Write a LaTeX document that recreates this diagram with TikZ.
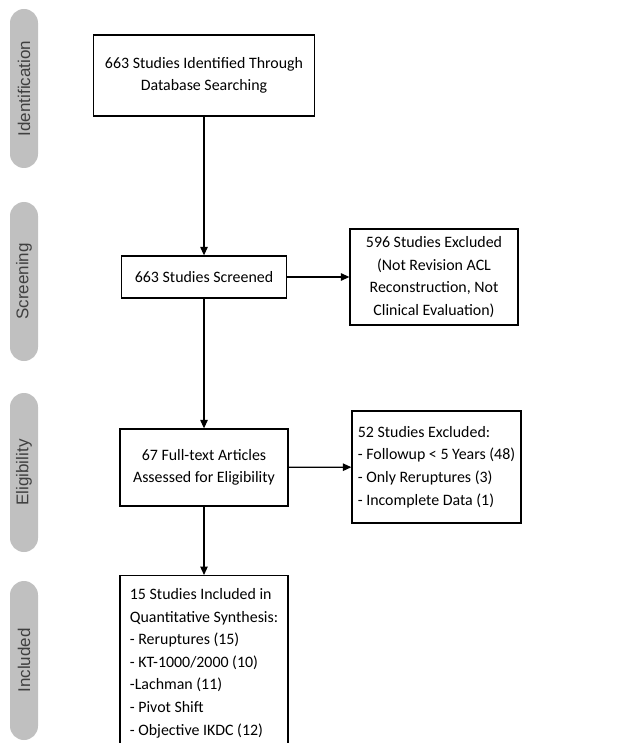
\documentclass[tikz,border=0pt]{standalone}
\usepackage{fontspec}
\setmainfont{Carlito}
\newfontfamily\phasefont{Liberation Sans}
\usetikzlibrary{arrows.meta}
\definecolor{phasegray}{RGB}{192,192,192}
\definecolor{phasetext}{RGB}{64,64,64}
\begin{document}
\begin{tikzpicture}[x=1pt,y=-1pt,
    box/.style={draw,line width=1.3pt,inner sep=0pt,align=center,
      font=\fontsize{15.9}{22.6}\selectfont},
    phase/.style={fill=phasegray,rounded corners=14pt,minimum width=159pt,
      minimum height=28pt,inner sep=0pt,rotate=90,text=phasetext,
      font=\phasefont\fontsize{17}{20}\selectfont},
    >={Triangle[length=8.5pt,width=7.5pt]}]
      \useasboundingbox (0,0) rectangle (631,743);
      \clip (0,0) rectangle (631,743);
      % phases
      \node[phase] (identification) at (24,88.5) {Identification};
      \node[phase] (screening) at (24,281.5) {Screening};
      \node[phase] (eligibility) at (24,472.5) {Eligibility};
      \node[phase] (included) at (24,660.5) {Included};
      % boxes
      \node[box,minimum width=221pt,minimum height=81pt] (ident) at (204,75.5)
        {663 Studies Identified Through\\Database Searching};
      \node[box,minimum width=165pt,minimum height=42pt] (screen) at (204,277)
        {663 Studies Screened};
      \node[box,minimum width=168pt,minimum height=96pt] (excl1) at (434,277)
        {596 Studies Excluded\\(Not Revision ACL\\Reconstruction, Not\\Clinical Evaluation)};
      \node[box,minimum width=168pt,minimum height=77pt] (full) at (204,467.5)
        {67 Full-text Articles\\Assessed for Eligibility};
      \node[box,align=left,minimum width=169pt,minimum height=112pt] (excl2) at (436.5,467)
        {52 Studies Excluded:\\- Followup < 5 Years (48)\\- Only Reruptures (3)\\- Incomplete Data (1)};
      \node[box,align=left,anchor=north,minimum width=168pt,minimum height=175pt] (incl) at (204,575)
        {15 Studies Included in\\Quantitative Synthesis:\\- Reruptures (15)\\- KT-1000/2000 (10)\\-Lachman (11)\\- Pivot Shift\\- Objective IKDC (12)};
      \begin{scope}[->,line width=1.2pt]
        \draw (ident) to (screen);
        \draw (screen) to (excl1);
        \draw (screen) to (full);
        \draw (full) to (excl2);
        \draw (full) to (incl);
      \end{scope}
    \end{tikzpicture}
\end{document}
